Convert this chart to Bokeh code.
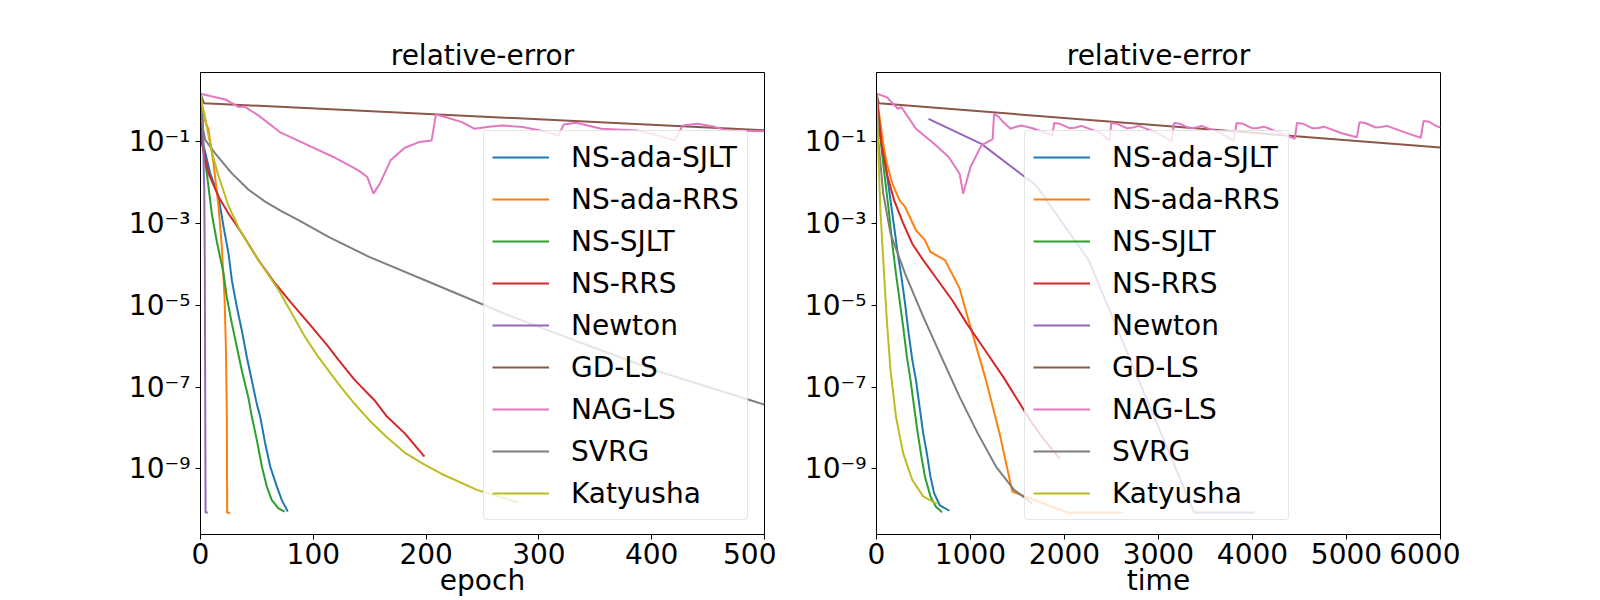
import numpy as np
from bokeh.plotting import figure
from bokeh.models import Range1d, FixedTicker, CustomJSTickFormatter, Legend, LegendItem
from bokeh.layouts import row
from bokeh.embed import file_html
from bokeh.resources import INLINE

# ---------------- data (error given as log10) ----------------
method_names = ["NS-ada-SJLT", "NS-ada-RRS", "NS-SJLT", "NS-RRS", "Newton",
                "GD-LS", "NAG-LS", "SVRG", "Katyusha"]
method_colors = ["#1f77b4", "#ff7f0e", "#2ca02c", "#d62728", "#9467bd",
                 "#8c564b", "#e377c2", "#7f7f7f", "#bcbd22"]

# left panel: relative error vs epoch
ep_ns_ada_sjlt = [0, 1.5, 2.7, 8.6, 16, 20.4, 24.8, 27.8, 32.2, 36.6, 41.1, 45.5, 49.9, 52.9, 57.3, 61.8, 67.7, 72.1, 77.4]
ep_ns_ada_sjlt_log = [0.16, -0.5, -1.1, -1.78, -2.35, -3.08, -3.73, -4.39, -5.04, -5.61, -6.27, -6.84, -7.41, -7.72, -8.37, -8.94, -9.43, -9.76, -10.04]

ep_ns_ada_rrs = [0, 3.5, 7.1, 11.5, 16, 18.9, 21.3, 22.5, 23.4, 23.6, 26.3]
ep_ns_ada_rrs_log = [0.16, -0.45, -0.71, -1.53, -2.59, -3.57, -4.8, -6.02, -7.8, -10.07, -10.07]

ep_ns_sjlt = [0, 1.2, 5.6, 10, 14.5, 20.4, 23.3, 27.8, 32.2, 36.6, 42.6, 45.5, 49.9, 54.4, 58.8, 63.2, 69.1, 74.5]
ep_ns_sjlt_log = [0.16, -0.96, -1.78, -2.76, -3.45, -4.22, -4.8, -5.45, -6.02, -6.59, -7.28, -7.72, -8.29, -8.94, -9.43, -9.76, -9.96, -10.04]

ep_ns_rrs = [0, 1.2, 7.1, 16, 24.8, 36.6, 51.4, 66.2, 81, 98.7, 113.5, 122.5, 136.8, 154.2, 165.3, 181.1, 198.5]
ep_ns_rrs_log = [0.16, -1.04, -1.78, -2.35, -2.76, -3.24, -3.9, -4.47, -4.96, -5.53, -6.02, -6.34, -6.83, -7.32, -7.72, -8.13, -8.7]

ep_newton = [2, 2.5, 3, 3.3, 3.8, 4.5, 6.5]
ep_newton_log = [-0.45, -1.06, -1.87, -2.07, -3.9, -10.06, -10.06]

ep_gd_ls = [0, 3, 500]
ep_gd_ls_log = [0.16, -0.066, -0.725]

ep_nag_ls = [0, 22.8, 33.9, 38.6, 51.3, 70.3, 86.1, 117.8, 140, 147.9, 153.3, 159, 168.5, 181.1, 193.8, 204.9,
             208.7, 219.1, 231.8, 242.9, 254, 266.6, 285.6, 307.8, 317.3, 322, 333.1, 355.3, 386.9, 402.8,
             420.2, 427.5, 440.8, 456.6, 466.1, 487.7, 500]
ep_nag_ls_log = [0.163, 0.017, -0.162, -0.146, -0.365, -0.772, -0.975, -1.38, -1.707, -1.87, -2.276, -2.03, -1.463,
                 -1.154, -1.016, -0.975, -0.341, -0.422, -0.528, -0.691, -0.65, -0.609, -0.65, -0.772, -0.861,
                 -0.585, -0.544, -0.691, -0.731, -0.829, -0.975, -0.609, -0.569, -0.65, -0.731, -0.748, -0.75]

ep_svrg = [0, 1, 4.1, 13, 27.8, 42.6, 57.3, 72.1, 86.9, 113.5, 149.5, 212.8, 276.1, 339.4, 402.8, 487.6, 500]
ep_svrg_log = [0.16, -0.5, -0.96, -1.29, -1.78, -2.18, -2.47, -2.71, -2.92, -3.33, -3.82, -4.55, -5.28, -5.94, -6.59, -7.32, -7.43]

ep_katyusha = [0, 1.8, 3.5, 5.6, 10, 16, 24.8, 33.7, 45.5, 57.3, 69.2, 81, 92.8, 104.6, 113.5, 124, 137, 150,
               165, 181, 197, 213, 245, 282]
ep_katyusha_log = [0.16, -0.16, -0.32, -0.65, -1.25, -1.85, -2.57, -3.1, -3.65, -4.14, -4.63, -5.2, -5.78, -6.27,
                   -6.6, -6.98, -7.42, -7.82, -8.22, -8.6, -8.87, -9.11, -9.51, -9.82]

# right panel: relative error vs time
t_ns_ada_sjlt = [0, 33, 91, 149, 188, 226, 265, 304, 342, 381, 420, 458, 497, 536, 574, 613, 671, 775]
t_ns_ada_sjlt_log = [0.16, -0.65, -1.46, -2.44, -3.09, -3.74, -4.31, -4.96, -5.69, -6.34, -6.83, -7.48, -8.13, -8.62, -9.19, -9.59, -9.88, -10.02]

t_ns_ada_rrs = [0, 33, 72, 110, 168, 246, 304, 420, 516, 574, 729, 884, 1000, 1155, 1309, 1445, 1580, 2025, 2624]
t_ns_ada_rrs_log = [0.16, -0.41, -1.06, -1.54, -2.03, -2.44, -2.6, -3.17, -3.41, -3.7, -3.9, -4.59, -5.53, -6.75, -8.13, -9.55, -9.67, -10.06, -10.06]

t_ns_sjlt = [0, 33, 79, 130, 168, 207, 246, 284, 323, 362, 400, 439, 478, 516, 574, 632, 698]
t_ns_sjlt_log = [0.16, -0.73, -1.7, -2.68, -3.5, -4.23, -4.88, -5.53, -6.26, -6.83, -7.48, -8.13, -8.7, -9.19, -9.67, -9.92, -10.06]

t_ns_rrs = [0, 52, 110, 188, 284, 381, 497, 652, 806, 961, 1155, 1348, 1503, 1657, 1812, 1947]
t_ns_rrs_log = [0.16, -1.06, -1.79, -2.44, -3.0, -3.5, -3.9, -4.39, -4.88, -5.45, -6.1, -6.75, -7.32, -7.89, -8.37, -8.74]

t_newton = [553, 1116, 1580, 1697, 2257, 3379, 4025]
t_newton_log = [-0.45, -1.06, -1.87, -2.07, -3.9, -10.06, -10.06]

t_gd_ls = [0, 25, 6000]
t_gd_ls_log = [0.16, -0.07, -1.15]

t_nag_ls = [0, 110, 226, 265, 420, 613, 768, 884, 922, 1000, 1116, 1212, 1235,
            1251, 1300, 1348, 1425, 1490, 1541, 1660, 1773, 1870,
            1890, 1950, 2060, 2120, 2180, 2370, 2480,
            2497, 2560, 2667, 2730, 2787, 2977, 3140,
            3166, 3230, 3336, 3400, 3456, 3646, 3800,
            3831, 3900, 4000, 4060, 4120, 4310, 4450,
            4473, 4540, 4640, 4700, 4760, 4950, 5110,
            5139, 5200, 5310, 5370, 5430, 5620, 5790,
            5820, 5880, 5950, 6000]
t_nag_ls_log = [0.163, 0.082, -0.203, -0.162, -0.69, -1.057, -1.382, -1.788, -2.276, -1.626, -1.097, -0.975, -0.95,
                -0.325, -0.4, -0.528, -0.69, -0.64, -0.61, -0.68, -0.77, -0.85,
                -0.55, -0.57, -0.68, -0.66, -0.62, -0.78, -0.98,
                -0.55, -0.57, -0.68, -0.66, -0.62, -0.78, -1.0,
                -0.55, -0.57, -0.68, -0.66, -0.62, -0.78, -0.98,
                -0.55, -0.57, -0.68, -0.67, -0.64, -0.8, -0.94,
                -0.55, -0.57, -0.68, -0.67, -0.64, -0.8, -0.9,
                -0.53, -0.55, -0.66, -0.65, -0.62, -0.78, -0.91,
                -0.5, -0.52, -0.62, -0.66]

t_svrg = [0, 20, 72, 149, 304, 497, 690, 884, 1077, 1271, 1464, 1657]
t_svrg_log = [0.16, -1.0, -2.28, -3.25, -4.23, -5.28, -6.26, -7.24, -8.13, -8.94, -9.51, -9.84]

t_katyusha = [0, 17, 41, 72, 110, 149, 207, 284, 381, 497, 640]
t_katyusha_log = [0.16, -1.06, -2.68, -3.9, -5.37, -6.58, -7.72, -8.62, -9.27, -9.67, -9.85]

epoch_ticks = [0, 100, 200, 300, 400, 500]
time_ticks = [0, 1000, 2000, 3000, 4000, 5000, 6000]
y_ticks = [1e-1, 1e-3, 1e-5, 1e-7, 1e-9]
y_log_min, y_log_max = -10.60, 0.683

epoch_series = [(ep_ns_ada_sjlt, ep_ns_ada_sjlt_log), (ep_ns_ada_rrs, ep_ns_ada_rrs_log),
                (ep_ns_sjlt, ep_ns_sjlt_log), (ep_ns_rrs, ep_ns_rrs_log), (ep_newton, ep_newton_log),
                (ep_gd_ls, ep_gd_ls_log), (ep_nag_ls, ep_nag_ls_log), (ep_svrg, ep_svrg_log),
                (ep_katyusha, ep_katyusha_log)]
time_series = [(t_ns_ada_sjlt, t_ns_ada_sjlt_log), (t_ns_ada_rrs, t_ns_ada_rrs_log),
               (t_ns_sjlt, t_ns_sjlt_log), (t_ns_rrs, t_ns_rrs_log), (t_newton, t_newton_log),
               (t_gd_ls, t_gd_ls_log), (t_nag_ls, t_nag_ls_log), (t_svrg, t_svrg_log),
               (t_katyusha, t_katyusha_log)]

FONT = "DejaVu Sans"
FS = "28px"

sup_formatter_code = """
const e = Math.round(Math.log10(tick));
const sup = {"-": "\\u207B", "0": "\\u2070", "1": "\\u00B9", "2": "\\u00B2", "3": "\\u00B3",
             "4": "\\u2074", "5": "\\u2075", "6": "\\u2076", "7": "\\u2077", "8": "\\u2078", "9": "\\u2079"};
return "10" + String(e).split("").map(c => sup[c]).join("");
"""


def make_panel(series, xmax, xticks, xlabel, width, border_left, border_right, legend_x):
    p = figure(width=width, height=600,
               x_range=Range1d(0, xmax),
               y_range=Range1d(10 ** y_log_min, 10 ** y_log_max),
               y_axis_type="log", output_backend="svg", toolbar_location=None,
               min_border_left=border_left, min_border_right=border_right,
               min_border_top=72, min_border_bottom=66)
    p.title.text = "relative-error"
    p.title.align = "center"
    p.title.text_font = FONT
    p.title.text_font_size = FS
    p.title.text_font_style = "normal"
    p.title.text_color = "black"
    p.title.standoff = 2
    p.xgrid.visible = False
    p.ygrid.visible = False
    p.outline_line_color = "black"
    p.outline_line_alpha = 1
    p.outline_line_width = 1

    for ax in (p.xaxis[0], p.yaxis[0]):
        ax.axis_line_color = "black"
        ax.major_tick_line_color = "black"
        ax.major_tick_in = 0
        ax.major_tick_out = 5
        ax.minor_tick_in = 0
        ax.minor_tick_out = 0
        ax.major_label_text_font = FONT
        ax.major_label_text_font_size = FS
        ax.major_label_text_color = "black"
    p.xaxis.ticker = FixedTicker(ticks=xticks, minor_ticks=[])
    p.yaxis.ticker = FixedTicker(ticks=y_ticks, minor_ticks=[])
    p.yaxis.formatter = CustomJSTickFormatter(code=sup_formatter_code)
    p.xaxis.major_label_standoff = 3
    p.yaxis.major_label_standoff = 5

    p.xaxis.axis_label = xlabel
    p.xaxis.axis_label_text_font = FONT
    p.xaxis.axis_label_text_font_size = FS
    p.xaxis.axis_label_text_font_style = "normal"
    p.xaxis.axis_label_text_color = "black"
    p.xaxis.axis_label_text_line_height = 0.9
    p.xaxis.axis_label_standoff = -3

    items = []
    for (xs, logs), name, col in zip(series, method_names, method_colors):
        ys = [10.0 ** v for v in logs]
        r = p.line(xs, ys, line_color=col, line_width=2)
        items.append(LegendItem(label=name, renderers=[r]))

    legend = Legend(items=items, location=(legend_x, 14))
    legend.label_text_font = FONT
    legend.label_text_font_size = FS
    legend.label_text_color = "black"
    legend.glyph_width = 57
    legend.glyph_height = 36
    legend.label_height = 36
    legend.label_standoff = 22
    legend.spacing = 6
    legend.padding = 8
    legend.margin = 0
    legend.border_line_color = "#cccccc"
    legend.border_line_width = 1
    legend.background_fill_alpha = 0.8
    try:
        legend.border_radius = 4
    except Exception:
        pass
    p.add_layout(legend)
    return p


p_left = make_panel(epoch_series, 500, epoch_ticks, "epoch", 776, 200, 12, 283)
p_right = make_panel(time_series, 6000, time_ticks, "time", 684, 100, 20, 148)

layout = row(p_left, p_right)
with open("out.html", "w", encoding="utf-8") as f:
    f.write(file_html(layout, INLINE))
